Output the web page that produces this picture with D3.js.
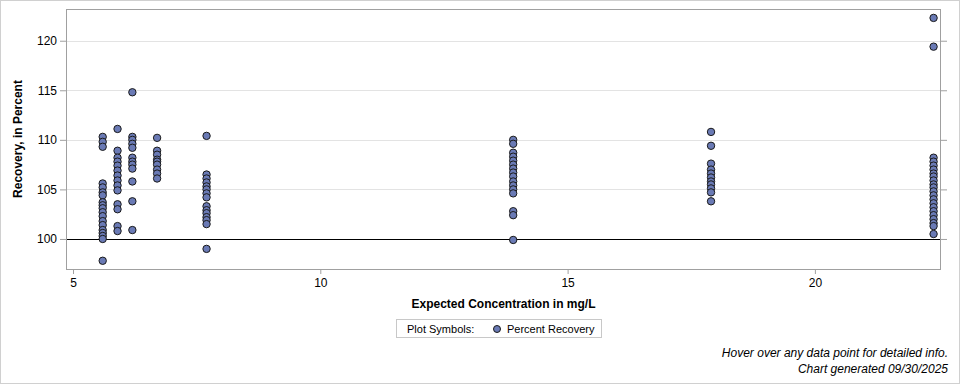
<!DOCTYPE html>
<html><head><meta charset="utf-8">
<script src="https://cdn.jsdelivr.net/npm/d3@7"></script>
<style>body{margin:0;background:#fff;} svg{display:block;font-family:Arial,"Liberation Sans",sans-serif;}</style>
</head><body>
<svg id="chart" width="960" height="384"></svg>
<script>
// Expected concentrations (mg/L) and recovery values (percent) for each group
const concentrations = [5.6, 5.9, 6.2, 6.7, 7.7, 13.9, 17.9, 22.4];
const recovery56 = [110.3, 109.8, 109.3, 105.6, 105.2, 104.7, 104.4, 103.7, 103.4, 103.1, 102.7, 102.3, 101.8, 101.4, 100.9, 100.6, 100.3, 100.0, 97.8];
const recovery59 = [111.1, 108.9, 108.2, 107.8, 107.4, 106.9, 106.4, 105.9, 105.4, 104.9, 103.5, 103.0, 101.3, 100.8];
const recovery62 = [114.8, 110.3, 110.0, 109.6, 109.2, 108.2, 107.8, 107.5, 107.1, 105.8, 103.8, 100.9];
const recovery67 = [110.2, 108.9, 108.5, 108.0, 107.8, 107.5, 107.0, 106.6, 106.1];
const recovery77 = [110.4, 106.5, 106.1, 105.7, 105.3, 105.0, 104.6, 104.2, 103.3, 102.9, 102.6, 102.2, 101.9, 101.5, 99.0];
const recovery139 = [110.0, 109.6, 108.7, 108.3, 107.9, 107.5, 107.1, 106.7, 106.3, 105.8, 105.4, 105.0, 104.6, 102.8, 102.4, 99.9];
const recovery179 = [110.8, 109.4, 107.6, 107.0, 106.6, 106.2, 105.8, 105.5, 105.1, 104.7, 103.8];
const recovery224 = [122.3, 119.4, 108.2, 107.8, 107.4, 107.0, 106.6, 106.3, 105.9, 105.5, 105.2, 104.8, 104.4, 104.0, 103.6, 103.2, 102.8, 102.4, 102.0, 101.6, 101.3, 100.5];
const recoveryGroups = [recovery56, recovery59, recovery62, recovery67, recovery77, recovery139, recovery179, recovery224];
const xTicks = [5, 10, 15, 20];
const yTicks = [100, 105, 110, 115, 120];
const referenceValue = 100;
const xLabel = "Expected Concentration in mg/L";
const yLabel = "Recovery, in Percent";
const legendTitle = "Plot Symbols:";
const legendLabel = "Percent Recovery";
const footer1 = "Hover over any data point for detailed info.";
const footer2 = "Chart generated 09/30/2025";

const points = [];
concentrations.forEach((c, i) => recoveryGroups[i].forEach(v => points.push({x: c, y: v})));

const svg = d3.select("#chart");
const L = 66, R = 941, T = 9, B = 269;
const x = d3.scaleLinear().domain([4.858, 22.55]).range([L, R]);
const y = d3.scaleLinear().domain([96.97, 123.2]).range([B, T]);

// outer border
svg.append("rect").attr("x", 0.5).attr("y", 0.5).attr("width", 959).attr("height", 383)
  .attr("fill", "#fff").attr("stroke", "#d0d0d0");

// gridlines
svg.append("g").selectAll("line").data(yTicks.filter(t => t !== referenceValue)).join("line")
  .attr("x1", L).attr("x2", R).attr("y1", d => Math.round(y(d)) + 0.5).attr("y2", d => Math.round(y(d)) + 0.5)
  .attr("stroke", "#e3e3e3");

// reference line
svg.append("line").attr("x1", L).attr("x2", R)
  .attr("y1", Math.round(y(referenceValue)) + 0.5).attr("y2", Math.round(y(referenceValue)) + 0.5)
  .attr("stroke", "#000");

// frame
svg.append("rect").attr("x", L + 0.5).attr("y", T + 0.5).attr("width", R - L - 1).attr("height", B - T)
  .attr("fill", "none").attr("stroke", "#a0a0a0");

function styleAxis(g) {
  g.select(".domain").remove();
  g.selectAll(".tick line").attr("stroke", "#a0a0a0");
  g.selectAll(".tick text").attr("fill", "#000").attr("font-size", 12)
    .attr("font-family", "Arial, 'Liberation Sans', sans-serif");
}

svg.append("g").attr("transform", `translate(${L},0)`)
  .call(d3.axisLeft(y).tickValues(yTicks).tickSize(6).tickPadding(3))
  .call(styleAxis);
svg.append("g").attr("transform", `translate(${R},0)`)
  .call(d3.axisRight(y).tickValues(yTicks).tickSize(6).tickFormat(""))
  .call(styleAxis);
svg.append("g").attr("transform", `translate(0,${B})`)
  .call(d3.axisBottom(x).tickValues(xTicks).tickSize(5).tickPadding(4))
  .call(styleAxis);

// axis labels
svg.append("text").attr("x", (L + R) / 2).attr("y", 308).attr("text-anchor", "middle")
  .attr("font-size", 12).attr("font-weight", "bold").text(xLabel);
svg.append("text").attr("transform", `translate(22,${(T + B) / 2}) rotate(-90)`).attr("text-anchor", "middle")
  .attr("font-size", 12).attr("font-weight", "bold").text(yLabel);

// points
svg.append("g").selectAll("circle").data(points).join("circle")
  .attr("cx", d => x(d.x)).attr("cy", d => y(d.y)).attr("r", 3.7)
  .attr("fill", "#6a7ab5").attr("stroke", "#1a1a1a").attr("stroke-width", 1);

// legend
const lg = svg.append("g");
lg.append("rect").attr("x", 396.5).attr("y", 319.5).attr("width", 205).attr("height", 18)
  .attr("fill", "#fff").attr("stroke", "#c8c8c8");
lg.append("text").attr("x", 407).attr("y", 333).attr("font-size", 11).text(legendTitle);
lg.append("circle").attr("cx", 497).attr("cy", 329).attr("r", 3.5)
  .attr("fill", "#6a7ab5").attr("stroke", "#1a1a1a");
lg.append("text").attr("x", 507).attr("y", 333).attr("font-size", 11).text(legendLabel);

// footer
svg.append("text").attr("x", 948).attr("y", 357).attr("text-anchor", "end")
  .attr("font-size", 12).attr("font-style", "italic").text(footer1);
svg.append("text").attr("x", 948).attr("y", 373).attr("text-anchor", "end")
  .attr("font-size", 12).attr("font-style", "italic").text(footer2);
</script>
</body></html>
